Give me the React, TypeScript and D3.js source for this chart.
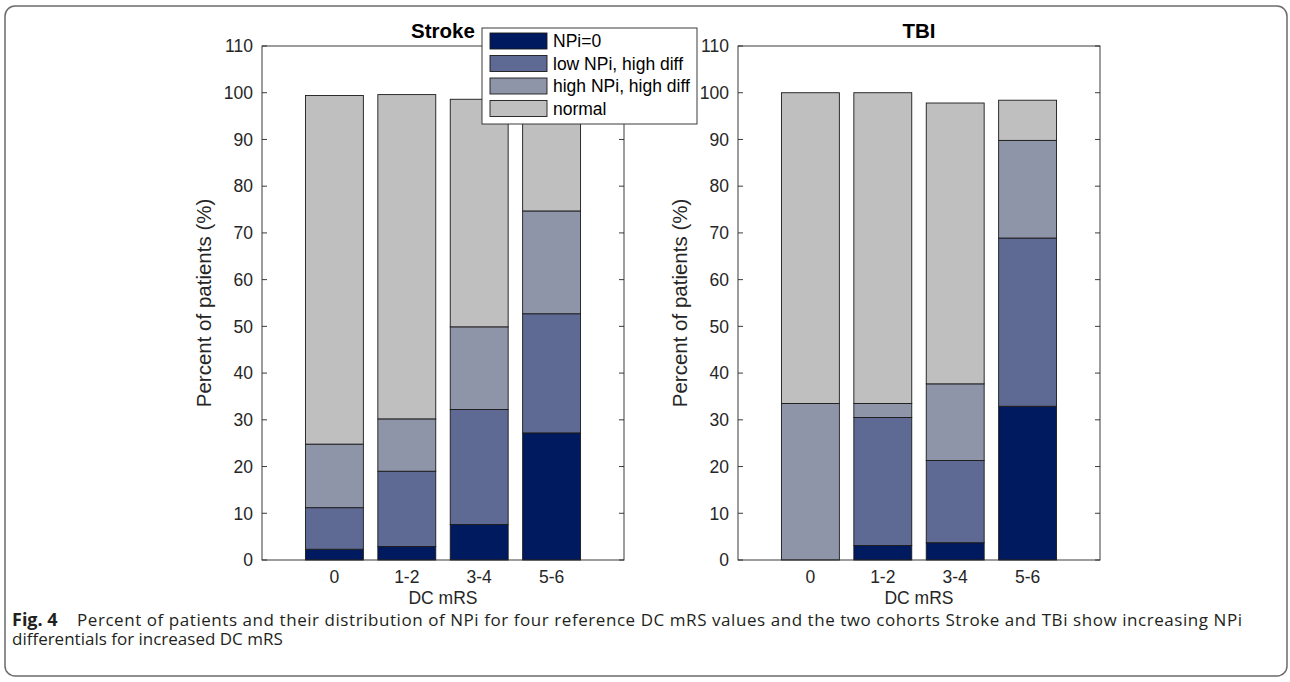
import React from 'react';
import * as d3 from 'd3';

const categories = ['0', '1-2', '3-4', '5-6'];
const groups = ['NPi=0', 'low NPi, high diff', 'high NPi, high diff', 'normal'];
const colors = ['#001a5f', '#5e6a93', '#8f95a9', '#bfbfbf'];

// stacked segment values (percent), one array per group
const strokeNpi0 = [2.3, 2.9, 7.6, 27.2];
const strokeLow = [8.9, 16.1, 24.6, 25.5];
const strokeHigh = [13.6, 11.2, 17.7, 22.0];
const strokeNormal = [74.6, 69.4, 48.7, 25.0];

const tbiNpi0 = [0, 3.1, 3.7, 32.9];
const tbiLow = [0, 27.4, 17.6, 36.0];
const tbiHigh = [33.5, 3.0, 16.4, 20.9];
const tbiNormal = [66.5, 66.5, 60.1, 8.6];

const yTicks = [0, 10, 20, 30, 40, 50, 60, 70, 80, 90, 100, 110];

const W = 1290;
const H = 682;
const axisFont = 'Liberation Sans, Arial, Helvetica, sans-serif';
const captionFont = 'Open Sans, Noto Sans, sans-serif';

interface PanelProps {
  title: string;
  left: number;
  series: number[][];
}

const Panel: React.FC<PanelProps> = ({ title, left, series }) => {
  const top = 46;
  const bottom = 560;
  const width = 362;
  const x = d3.scaleLinear().domain([0, 5]).range([left, left + width]);
  const y = d3.scaleLinear().domain([0, 110]).range([bottom, top]);
  const barW = x(0.8) - x(0);

  const rows = categories.map((c, i) => {
    const r: any = { cat: c };
    groups.forEach((g, k) => (r[g] = series[k][i]));
    return r;
  });
  const stacked = d3.stack<any>().keys(groups)(rows);

  const axisColor = '#262626';

  return (
    <g style={{ fontFamily: axisFont }}>
      {stacked.map((layer, k) =>
        layer.map((d, i) =>
          d[1] - d[0] > 0 ? (
            <rect
              key={`${k}-${i}`}
              x={x(i + 1) - barW / 2}
              y={y(d[1])}
              width={barW}
              height={y(d[0]) - y(d[1])}
              fill={colors[k]}
              stroke="#1a1a1a"
              strokeWidth={0.9}
            />
          ) : null
        )
      )}
      {/* axes box */}
      <rect x={left} y={top} width={width} height={bottom - top} fill="none" stroke={axisColor} strokeWidth={0.9} />
      {yTicks.map(t => (
        <g key={t}>
          <line x1={left} x2={left + 5} y1={y(t)} y2={y(t)} stroke={axisColor} strokeWidth={0.9} />
          <line x1={left + width} x2={left + width - 5} y1={y(t)} y2={y(t)} stroke={axisColor} strokeWidth={0.9} />
          <text x={left - 9} y={y(t)} dy="0.36em" textAnchor="end" fontSize={17.5} fill="#262626">
            {t}
          </text>
        </g>
      ))}
      {categories.map((c, i) => (
        <text key={c} x={x(i + 1)} y={bottom + 23} textAnchor="middle" fontSize={17.5} fill="#262626">
          {c}
        </text>
      ))}
      <text x={x(2.5)} y={bottom + 44} textAnchor="middle" fontSize={17.5} fill="#262626">
        DC mRS
      </text>
      <text
        transform={`translate(${left - 51},${(top + bottom) / 2}) rotate(-90)`}
        textAnchor="middle"
        fontSize={20.5}
        fill="#262626"
      >
        Percent of patients (%)
      </text>
      <text x={x(2.5)} y={top - 8} textAnchor="middle" fontSize={20.5} fontWeight="bold" fill="#000">
        {title}
      </text>
    </g>
  );
};

const Legend: React.FC = () => {
  const lx = 482;
  const ly = 28;
  return (
    <g style={{ fontFamily: axisFont }}>
      <rect x={lx} y={ly} width={215} height={96} fill="#fff" stroke="#262626" strokeWidth={0.9} />
      {groups.map((g, k) => (
        <g key={g}>
          <rect x={lx + 8} y={ly + 5 + k * 22.5} width={57} height={16} fill={colors[k]} stroke="#1a1a1a" strokeWidth={0.9} />
          <text x={lx + 71} y={ly + 13 + k * 22.5} dy="0.36em" fontSize={17.5} fill="#000">
            {g}
          </text>
        </g>
      ))}
    </g>
  );
};

export default function App() {
  return (
    <svg width={W} height={H} style={{ position: 'absolute', left: 0, top: 0, background: '#fff' }}>
      <rect x={5} y={6} width={1282} height={670} rx={10} ry={10} fill="#fff" stroke="#6b6b6b" strokeWidth={1.5} />
      <Panel title="Stroke" left={262} series={[strokeNpi0, strokeLow, strokeHigh, strokeNormal]} />
      <Panel title="TBI" left={738} series={[tbiNpi0, tbiLow, tbiHigh, tbiNormal]} />
      <Legend />
      <g style={{ fontFamily: captionFont }} fill="#231f20">
        <text x={12} y={626} fontSize={18} fontWeight="bold">
          Fig. 4
        </text>
        <text x={77} y={626} fontSize={17} textLength={1165} lengthAdjust="spacing">
          Percent of patients and their distribution of NPi for four reference DC mRS values and the two cohorts Stroke and TBi show increasing NPi
        </text>
        <text x={12} y={645} fontSize={17}>
          differentials for increased DC mRS
        </text>
      </g>
    </svg>
  );
}
